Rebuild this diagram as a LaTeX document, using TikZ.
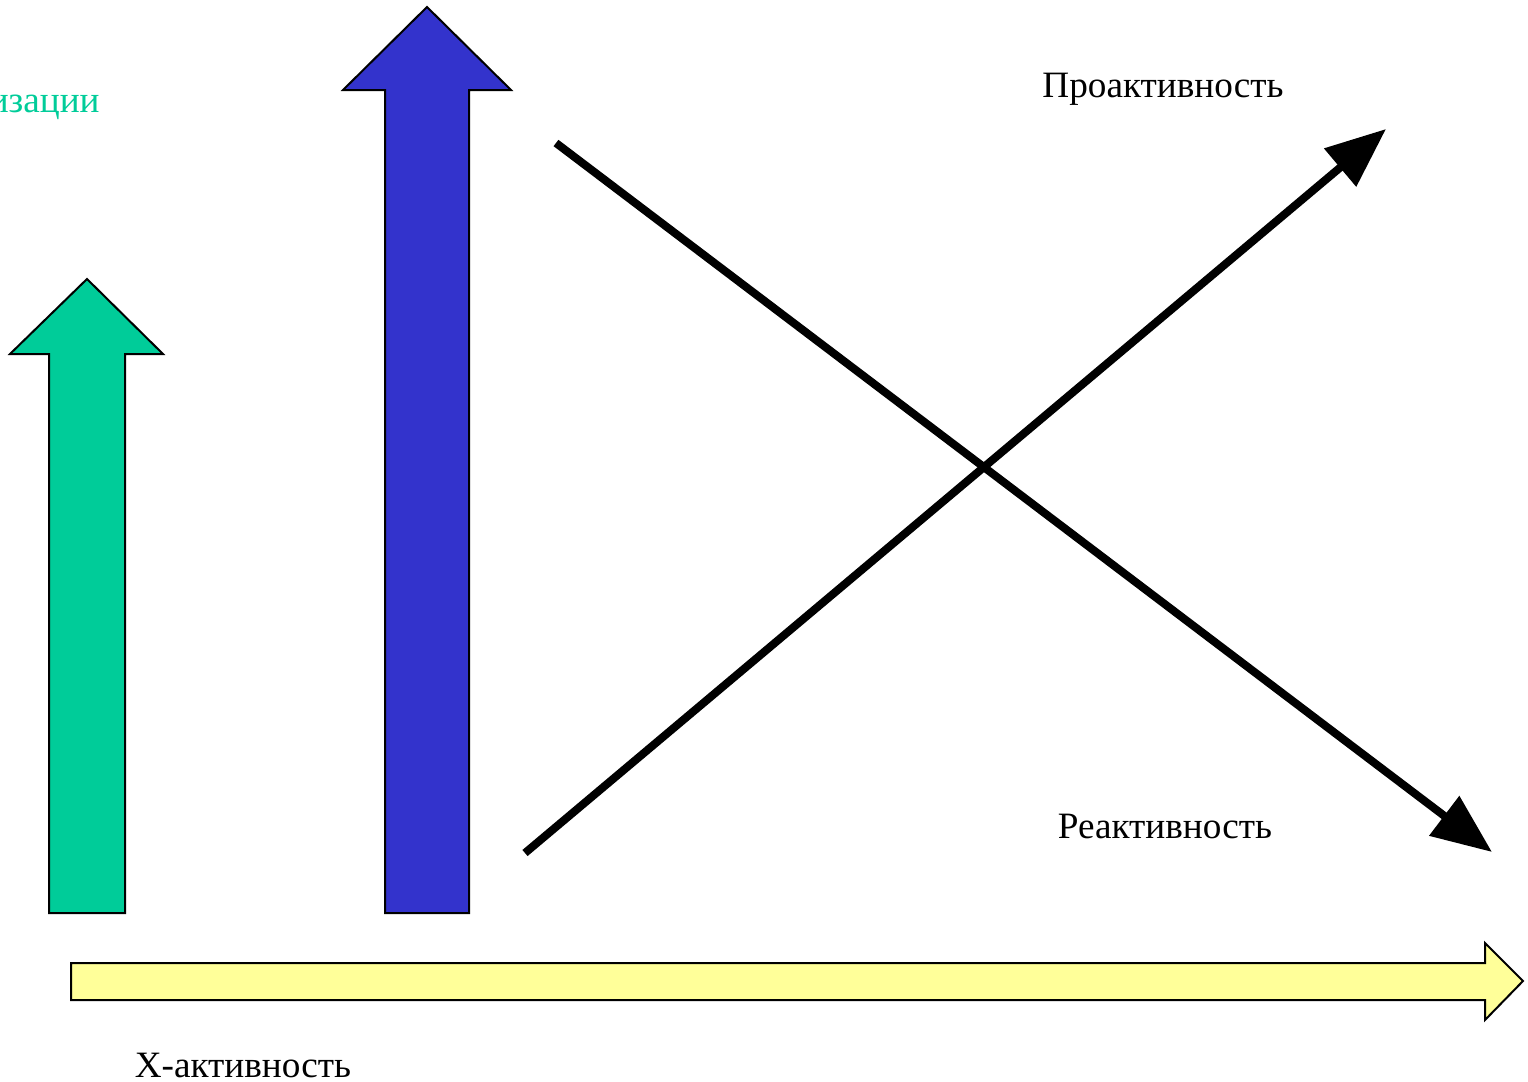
\documentclass[tikz,border=0pt]{standalone}
\usepackage{fontspec}
\setmainfont{Liberation Serif}
\usetikzlibrary{arrows.meta}
\definecolor{grn}{HTML}{00CC99}
\definecolor{blu}{HTML}{3333CC}
\definecolor{yel}{HTML}{FFFF99}
\tikzset{
  blockarrow/.style={draw=black, line width=1pt, line join=miter},
  thickline/.style={line width=4pt, -{Triangle[length=30pt,width=24pt]}},
  lbl/.style={font=\fontsize{18.6}{20}\selectfont, anchor=base, inner sep=0pt}
}
\begin{document}
\begin{tikzpicture}[x=0.5pt,y=-0.5pt]
\useasboundingbox (0,0) rectangle (1528,1082);
% green block arrow
\filldraw[blockarrow, fill=grn] (87,279) -- (163,354) -- (125,354) -- (125,913) -- (49,913) -- (49,354) -- (10,354) -- cycle;
% blue block arrow
\filldraw[blockarrow, fill=blu] (427,7) -- (511,90) -- (469,90) -- (469,913) -- (385,913) -- (385,90) -- (343,90) -- cycle;
% yellow block arrow
\filldraw[blockarrow, fill=yel] (71,963) -- (1485,963) -- (1485,943) -- (1523,981) -- (1485,1020) -- (1485,1000) -- (71,1000) -- cycle;
% lines
\coordinate (a1) at (525,853);
\coordinate (a2) at (1386,129);
\coordinate (b1) at (556,143);
\coordinate (b2) at (1492,852);
\draw[thickline] (a1) -- (a2);
\draw[thickline] (b1) -- (b2);
% labels
\node[lbl] (pro) at (1163,97) {Проактивность};
\node[lbl] (rea) at (1165,838) {Реактивность};
\node[lbl] (xak) at (243,1077) {X-активность};
\node[lbl, anchor=base east, text=grn] (iz) at (100,112) {изации};
\end{tikzpicture}
\end{document}
